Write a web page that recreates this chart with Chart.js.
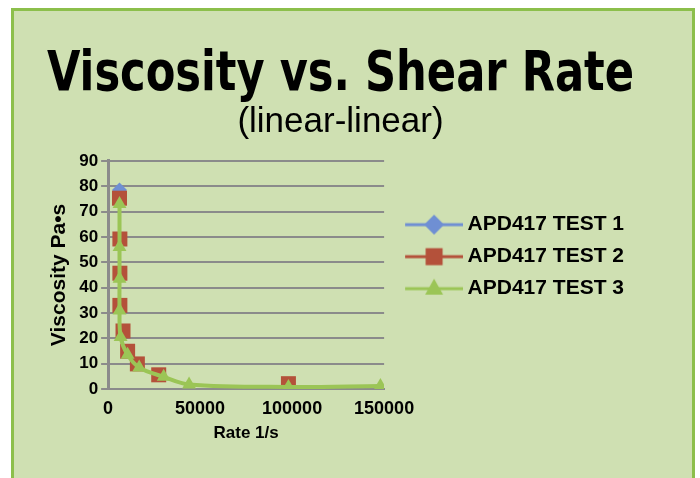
<!DOCTYPE html>
<html>
<head>
<meta charset="utf-8">
<script src="https://cdn.jsdelivr.net/npm/chart.js@4/dist/chart.umd.min.js"></script>
<style>
  html, body { margin: 0; padding: 0; background: #ffffff; }
  #wrap { position: relative; width: 700px; height: 478px; overflow: hidden; }
  #frame { position: absolute; left: 11px; top: 8px; width: 678px; height: 490px;
           border: 3px solid #8cbf4b; background: #cfe0b2; }
  #c { position: absolute; left: 0; top: 0; }
</style>
</head>
<body>
<div id="wrap">
  <div id="frame"></div>
  <canvas id="c" width="700" height="478"></canvas>
</div>
<script>
// ---- data ----
const seriesNames = ['APD417 TEST 1', 'APD417 TEST 2', 'APD417 TEST 3'];

// Test 1 is almost entirely hidden; only its top point is visible
const rate1 = [6200];
const visc1 = [78.5];

const rate2 = [6200, 6400, 6400, 6400, 8100, 10600, 15900, 27500, 98000];
const visc2 = [75.3, 59.2, 45.7, 33, 22.9, 14.9, 9.9, 5.6, 2.1];

const rate3 = [6200, 6200, 6200, 6200, 6800, 10600, 16900, 30200, 44000, 98000, 148000];
const visc3 = [73, 56, 43.5, 31, 20.5, 13.5, 8.5, 4.8, 1.8, 0.8, 1.2];

const xTicks = [0, 50000, 100000, 150000];
const yTicks = [0, 10, 20, 30, 40, 50, 60, 70, 80, 90];

// ---- styling ----
const BLUE = '#6f8fd3', RED = '#b4513a', GREEN = '#9bc556', GRID = '#8b8b8b';
const FONT = "'Liberation Sans', Arial, sans-serif";
const NARROW = "'Liberation Sans Narrow', 'DejaVu Sans Condensed', 'Liberation Sans', sans-serif";

function pts(xs, ys) { return xs.map((x, i) => ({ x: x, y: ys[i] })); }

function glyph(color, shape) {
  const c = document.createElement('canvas');
  c.width = 74; c.height = 24;
  const g = c.getContext('2d');
  const x0 = 16, x1 = 74, cx = (x0 + x1) / 2, cy = 12;
  g.strokeStyle = color; g.lineWidth = 3;
  g.beginPath(); g.moveTo(x0, cy); g.lineTo(x1, cy); g.stroke();
  g.fillStyle = color;
  g.beginPath();
  if (shape === 'rectRot') {
    g.moveTo(cx - 10, cy); g.lineTo(cx, cy - 10); g.lineTo(cx + 10, cy); g.lineTo(cx, cy + 10);
  } else if (shape === 'rect') {
    g.rect(cx - 8.5, cy - 8.5, 17, 17);
  } else {
    g.moveTo(cx, cy - 10); g.lineTo(cx + 9, cy + 6); g.lineTo(cx - 9, cy + 6);
  }
  g.closePath(); g.fill();
  return c;
}
const glyphs = [glyph(BLUE, 'rectRot'), glyph(RED, 'rect'), glyph(GREEN, 'triangle')];

const chart = new Chart(document.getElementById('c'), {
  type: 'scatter',
  data: {
    datasets: [
      { label: seriesNames[0], data: pts(rate1, visc1), order: 3,
        showLine: false, borderColor: BLUE, borderWidth: 3,
        pointStyle: 'rectRot', pointRadius: 7.5, backgroundColor: BLUE, pointBorderWidth: 0 },
      { label: seriesNames[1], data: pts(rate2, visc2), order: 2,
        showLine: false, borderColor: RED, borderWidth: 3,
        pointStyle: 'rect', pointRadius: 10.6, backgroundColor: RED, pointBorderWidth: 0 },
      { label: seriesNames[2], data: pts(rate3, visc3), order: 1,
        showLine: true, tension: 0.35, borderColor: GREEN, borderWidth: 4,
        pointStyle: 'triangle', pointRadius: 8, backgroundColor: GREEN, pointBorderWidth: 0 }
    ]
  },
  options: {
    responsive: false,
    animation: false,
    layout: { padding: { left: 47, right: 66, top: 0, bottom: 34 } },
    plugins: {
      tooltip: { enabled: false },
      title: {
        display: true, text: 'Viscosity vs. Shear Rate', color: '#000',
        font: { family: NARROW, size: 55.5, weight: 'bold', lineHeight: 0.9 },
        padding: { top: 51, bottom: 0 }
      },
      subtitle: {
        display: true, text: '(linear-linear)', color: '#000',
        font: { family: FONT, size: 35, weight: 'normal', lineHeight: 1.0 },
        padding: { top: 4, bottom: 21 }
      },
      legend: {
        position: 'right', align: 'start', fullSize: false, maxWidth: 330,
        title: { display: true, text: ' ', font: { size: 1 }, padding: { top: 41, bottom: 0 } },
        labels: {
          color: '#000', font: { family: FONT, size: 21, weight: 'bold' },
          usePointStyle: true, pointStyleWidth: 62, padding: 11,
          generateLabels: (ch) => ch.data.datasets.map((d, i) => ({
            text: d.label, pointStyle: glyphs[i], datasetIndex: i, fontColor: '#000',
            fillStyle: d.backgroundColor, strokeStyle: d.borderColor, lineWidth: 0, hidden: false
          }))
        }
      }
    },
    scales: {
      x: {
        type: 'linear', min: 0, max: 150000,
        afterBuildTicks: (s) => { s.ticks = xTicks.map(v => ({ value: v })); },
        grid: { display: false },
        border: { display: true, color: GRID, width: 2 },
        ticks: { color: '#000', font: { family: FONT, size: 18, weight: 'bold' }, padding: 1, maxRotation: 0,
                 format: { useGrouping: false } },
        title: { display: true, text: 'Rate 1/s', color: '#000',
                 font: { family: FONT, size: 17, weight: 'bold' }, padding: { top: 3, bottom: 0 } }
      },
      y: {
        type: 'linear', min: 0, max: 90,
        afterBuildTicks: (s) => { s.ticks = yTicks.map(v => ({ value: v })); },
        grid: { color: GRID, lineWidth: 2, drawTicks: true, tickLength: 7, tickColor: GRID },
        border: { display: true, color: GRID, width: 3 },
        ticks: { color: '#000', font: { family: FONT, size: 17, weight: 'bold' }, padding: 3 },
        title: { display: true, text: 'Viscosity Pa•s', color: '#000',
                 font: { family: FONT, size: 21, weight: 'bold' }, padding: { top: 0, bottom: 4 } }
      }
    }
  }
});
</script>
</body>
</html>
